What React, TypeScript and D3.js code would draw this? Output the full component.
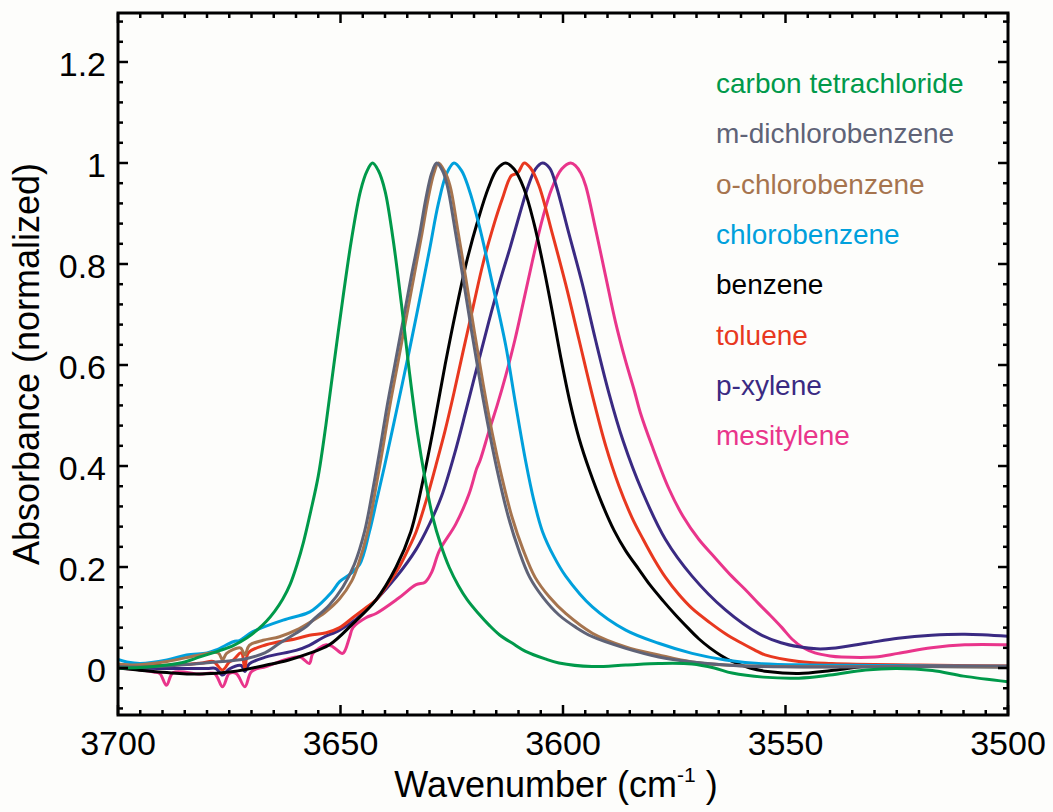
import React from "react";
import * as d3 from "d3";

type Pt = [number, number];

const WIDTH = 1053;
const HEIGHT = 812;

const xTicks = [3700, 3650, 3600, 3550, 3500];
const yTicks = [0, 0.2, 0.4, 0.6, 0.8, 1, 1.2];
const yTickLabels = ["0", "0.2", "0.4", "0.6", "0.8", "1", "1.2"];

const seriesNames = [
  "carbon tetrachloride",
  "m-dichlorobenzene",
  "o-chlorobenzene",
  "chlorobenzene",
  "benzene",
  "toluene",
  "p-xylene",
  "mesitylene",
];
const seriesColors = [
  "#00994a",
  "#5f6377",
  "#a6744e",
  "#00a0dc",
  "#000000",
  "#e8381f",
  "#3a2a82",
  "#e9358b",
];

const ccl4: Pt[] = [
  [3700, 0.0], [3695, 0.001], [3689, 0.006], [3685, 0.012], [3681.6, 0.022], [3677, 0.035],
  [3674, 0.045], [3671, 0.06], [3668.5, 0.077], [3666.7, 0.092], [3664.8, 0.112], [3663, 0.136],
  [3661.3, 0.166], [3659.8, 0.204], [3658.3, 0.25], [3656.7, 0.31], [3655, 0.38], [3653.3, 0.48],
  [3651.5, 0.6], [3649.5, 0.73], [3647.5, 0.85], [3645.5, 0.945], [3644, 0.985], [3642.8, 1.0],
  [3641.5, 0.985], [3640, 0.945], [3638.2, 0.85], [3636.3, 0.72], [3634.5, 0.585], [3632.7, 0.465],
  [3631, 0.375], [3629.3, 0.3], [3627.5, 0.245], [3625.6, 0.2], [3623.5, 0.163], [3621.5, 0.135],
  [3619, 0.108], [3616.6, 0.085], [3614.3, 0.066], [3611, 0.047], [3608.4, 0.033], [3604, 0.018],
  [3600.9, 0.01], [3593.5, 0.003], [3585.9, 0.006], [3578.5, 0.009], [3571, 0.008], [3566, 0.0],
  [3562, -0.01], [3555, -0.018], [3547, -0.02], [3540, -0.014], [3532, -0.004], [3525, -0.001],
  [3517, -0.005], [3510, -0.016], [3500, -0.027],
];

const mDichloro: Pt[] = [
  [3700, 0.003], [3695, 0.002], [3689, 0.004], [3683, 0.008], [3678, 0.012], [3674, 0.015],
  [3671, 0.019], [3667, 0.03], [3663.7, 0.049], [3660, 0.069], [3657.7, 0.082], [3656.2, 0.095],
  [3652.5, 0.125], [3649.5, 0.16], [3646.9, 0.205], [3644.6, 0.27], [3642.6, 0.36], [3641, 0.44],
  [3639.5, 0.52], [3637.8, 0.6], [3636, 0.685], [3634, 0.78], [3632.2, 0.86], [3630.8, 0.93],
  [3629.5, 0.98], [3628.4, 1.0], [3627.1, 0.985], [3626, 0.955], [3624.3, 0.87], [3622.5, 0.775],
  [3620.5, 0.665], [3618.5, 0.56], [3616.5, 0.465], [3614.5, 0.38], [3612.3, 0.3], [3610, 0.235],
  [3607.5, 0.18], [3604.5, 0.14], [3600.9, 0.105], [3597, 0.08], [3593.4, 0.062], [3585.9, 0.039],
  [3578.5, 0.022], [3571, 0.012], [3563.5, 0.006], [3556, 0.003], [3540, 0.002], [3520, 0.003],
  [3500, 0.004],
];

const oChloro: Pt[] = [
  [3700, 0.008], [3696.6, 0.006], [3689, 0.013], [3681.6, 0.026], [3677.5, 0.03], [3676.5, 0.016],
  [3675.6, 0.029], [3672.5, 0.04], [3671.5, 0.026], [3670.5, 0.045], [3667.4, 0.055],
  [3663.7, 0.062], [3660, 0.075], [3656.6, 0.092], [3653.5, 0.11], [3650.2, 0.137], [3647.5, 0.172],
  [3646, 0.205], [3643.9, 0.27], [3642, 0.36], [3640.4, 0.44], [3638.9, 0.52], [3637.2, 0.6],
  [3635.4, 0.685], [3633.4, 0.78], [3631.7, 0.86], [3630.3, 0.93], [3629, 0.98], [3628, 1.0],
  [3626.7, 0.985], [3625.4, 0.955], [3623.7, 0.87], [3621.9, 0.775], [3619.9, 0.665],
  [3617.9, 0.56], [3615.9, 0.465], [3613.8, 0.38], [3611.5, 0.3], [3609, 0.235], [3606.3, 0.18],
  [3603, 0.14], [3599.4, 0.108], [3593.4, 0.069], [3585.9, 0.042], [3578.5, 0.026], [3571, 0.012],
  [3563.5, 0.006], [3550, 0.003], [3520, 0.003], [3500, 0.003],
];

const chloro: Pt[] = [
  [3700, 0.017], [3698, 0.012], [3695, 0.009], [3689, 0.016], [3684.6, 0.026], [3680, 0.03],
  [3677.9, 0.036], [3674.1, 0.052], [3672.6, 0.055], [3669.7, 0.072], [3662.9, 0.095],
  [3657.7, 0.108], [3656.2, 0.115], [3652, 0.15], [3650.2, 0.171], [3648, 0.185], [3645.7, 0.205],
  [3643.5, 0.27], [3641.8, 0.335], [3640.1, 0.4], [3637.4, 0.51], [3634.5, 0.63], [3632.2, 0.73],
  [3630.0, 0.828], [3628, 0.92], [3626.2, 0.978], [3624.5, 1.0], [3622.8, 0.985], [3621.2, 0.95],
  [3618.8, 0.875], [3615.9, 0.762], [3612.9, 0.64], [3610.7, 0.525], [3608.4, 0.41],
  [3606.5, 0.33], [3604.6, 0.27], [3602, 0.22], [3599.4, 0.182], [3593.4, 0.121], [3585.9, 0.075],
  [3578.5, 0.049], [3571, 0.029], [3563.5, 0.016], [3556, 0.009], [3545, 0.006], [3530, 0.005],
  [3500, 0.003],
];

const benzene: Pt[] = [
  [3700, 0.0], [3696.6, -0.003], [3689, -0.009], [3681.6, -0.012], [3674, -0.007], [3666.6, 0.006],
  [3662, 0.015], [3657.7, 0.027], [3652.5, 0.046], [3647.2, 0.088], [3642, 0.135], [3637.5, 0.2],
  [3634.2, 0.27], [3631.5, 0.37], [3629, 0.48], [3626.5, 0.6], [3624, 0.71], [3621.5, 0.81],
  [3619, 0.89], [3616.8, 0.95], [3614.8, 0.988], [3612.9, 1.0], [3611, 0.988], [3608.8, 0.95],
  [3606.5, 0.88], [3604.5, 0.8], [3602.5, 0.71], [3600.5, 0.615], [3598.4, 0.525], [3596.4, 0.455],
  [3594, 0.39], [3591.2, 0.325], [3588.5, 0.272], [3585.9, 0.232], [3583, 0.196], [3580.5, 0.165],
  [3577.5, 0.133], [3574.7, 0.105], [3572, 0.08], [3569.5, 0.058], [3567, 0.04], [3564.5, 0.025],
  [3562, 0.013], [3558, 0.0], [3554, -0.007], [3547, -0.011], [3539.7, -0.005], [3532, 0.003],
  [3520, 0.003], [3500, 0.002],
];

const toluene: Pt[] = [
  [3700, 0.007], [3694, 0.005], [3687.6, 0.006], [3681, 0.01], [3678.6, 0.013], [3676.5, -0.004],
  [3675, 0.012], [3674.1, 0.016], [3672.3, 0.03], [3671.5, -0.001], [3670.7, 0.03], [3666.7, 0.046],
  [3660, 0.058], [3657, 0.065], [3653.2, 0.07], [3650.2, 0.08], [3647.2, 0.1], [3644.5, 0.118],
  [3642, 0.135], [3639, 0.17], [3636.8, 0.2], [3634.8, 0.235], [3633, 0.27], [3630.8, 0.33],
  [3628.6, 0.4], [3626.5, 0.47], [3624.5, 0.545], [3622.5, 0.625], [3620.2, 0.715], [3618, 0.8],
  [3615.8, 0.87], [3613.6, 0.93], [3611.6, 0.975], [3610.2, 0.98], [3608.7, 1.0], [3607.3, 0.99],
  [3605.4, 0.955], [3602.4, 0.86], [3599.4, 0.76], [3596.4, 0.65], [3593.4, 0.54], [3590.4, 0.44],
  [3587.4, 0.36], [3584.5, 0.298], [3582, 0.255], [3579.5, 0.215], [3577, 0.18], [3574, 0.146],
  [3571, 0.118], [3567, 0.09], [3563.5, 0.068], [3560, 0.05], [3557, 0.036], [3554.6, 0.026],
  [3547, 0.013], [3539.6, 0.009], [3520, 0.006], [3500, 0.004],
];

const pXylene: Pt[] = [
  [3700, 0.001], [3689, -0.001], [3680, -0.001], [3678, -0.001], [3676.5, -0.014], [3675, -0.002],
  [3672.3, 0.005], [3671.5, -0.007], [3670.5, 0.008], [3666.7, 0.022], [3660, 0.035], [3657, 0.045],
  [3654, 0.06], [3650.2, 0.075], [3646.5, 0.097], [3642, 0.135], [3637.5, 0.18], [3633, 0.235],
  [3630, 0.285], [3627.3, 0.34], [3624.5, 0.42], [3621.8, 0.51], [3619.2, 0.6], [3616.7, 0.685],
  [3614.2, 0.765], [3611.8, 0.835], [3609.7, 0.9], [3607.8, 0.955], [3606.2, 0.988], [3604.6, 1.0],
  [3603, 0.99], [3601.7, 0.96], [3598.7, 0.861], [3595.7, 0.762], [3592.7, 0.65], [3589.7, 0.545],
  [3586.5, 0.45], [3582.2, 0.35], [3577, 0.255], [3571, 0.182], [3563.5, 0.115], [3556, 0.068],
  [3551, 0.05], [3547, 0.042], [3543, 0.038], [3539.6, 0.039], [3532, 0.049], [3524.7, 0.059],
  [3517.2, 0.065], [3509.7, 0.067], [3500, 0.063],
];

const mesitylene: Pt[] = [
  [3700, 0.001], [3697, -0.002], [3695, -0.004], [3692, -0.008], [3690.6, -0.011], [3689.1, -0.034],
  [3687.6, -0.009], [3681.6, -0.012], [3678.3, -0.011], [3676.5, -0.037], [3675, -0.011],
  [3673.4, -0.011], [3671.5, -0.037], [3670, -0.007], [3666.7, 0.003], [3659.2, 0.022],
  [3657, 0.009], [3656.2, 0.029], [3653.2, 0.046], [3651.7, 0.042], [3649.5, 0.029], [3648, 0.06],
  [3647.2, 0.08], [3644.2, 0.1], [3642, 0.108], [3637, 0.138], [3633, 0.165], [3631, 0.17],
  [3629.5, 0.19], [3627.8, 0.232], [3624.1, 0.285], [3621.1, 0.345], [3619.4, 0.395],
  [3618.6, 0.412], [3616.6, 0.47], [3614.8, 0.52], [3612.9, 0.578], [3610.8, 0.65], [3608.9, 0.725],
  [3606.9, 0.805], [3604.6, 0.89], [3602.5, 0.95], [3600.3, 0.988], [3598.3, 1.0], [3597.2, 0.995],
  [3596, 0.98], [3594.9, 0.955], [3592.7, 0.87], [3590.4, 0.775], [3588.2, 0.685], [3586, 0.61],
  [3584, 0.55], [3582.6, 0.505], [3580, 0.44], [3576.2, 0.355], [3573, 0.3], [3569.5, 0.255],
  [3566, 0.22], [3562.1, 0.182], [3559, 0.155], [3556.1, 0.128], [3553.5, 0.105], [3550.8, 0.08],
  [3548.5, 0.057], [3546, 0.04], [3543.4, 0.03], [3540, 0.024], [3537.4, 0.022], [3529.9, 0.022],
  [3524.7, 0.029], [3517.2, 0.04], [3509.7, 0.046], [3500, 0.046],
];

const seriesData: Pt[][] = [ccl4, mDichloro, oChloro, chloro, benzene, toluene, pXylene, mesitylene];
const drawOrder = [7, 6, 5, 4, 3, 2, 1, 0];

const LEFT = 118;
const RIGHT = 1008;
const TOP = 13;
const BOTTOM = 715;
const FONT = "'Liberation Sans', Arial, Helvetica, sans-serif";

export default function App() {
  const x = d3.scaleLinear().domain([3700, 3500]).range([LEFT, RIGHT]);
  const y = d3.scaleLinear().domain([-0.093, 1.297]).range([BOTTOM, TOP]);
  const line = d3
    .line<Pt>()
    .x((d) => x(d[0]))
    .y((d) => y(d[1]))
    .curve(d3.curveCatmullRom.alpha(0.5));

  const xMinor = d3.range(3700, 3499, -5);
  const yMinor = d3.range(-0.08, 1.29, 0.04).map((v) => Math.round(v * 100) / 100);
  const isMajorY = (v: number) => Math.abs(v / 0.2 - Math.round(v / 0.2)) < 1e-6;

  return (
    <svg
      width={WIDTH}
      height={HEIGHT}
      style={{ position: "absolute", left: 0, top: 0, background: "#fdfdfb" }}
    >
      <defs>
        <clipPath id="plot">
          <rect x={LEFT} y={TOP} width={RIGHT - LEFT} height={BOTTOM - TOP} />
        </clipPath>
      </defs>
      <rect x={0} y={0} width={WIDTH} height={HEIGHT} fill="#fdfdfb" />

      <g clipPath="url(#plot)">
        {drawOrder.map((i) => (
          <path
            key={seriesNames[i]}
            d={line(seriesData[i]) || ""}
            fill="none"
            stroke={seriesColors[i]}
            strokeWidth={3}
            strokeLinejoin="round"
            strokeLinecap="round"
          />
        ))}
      </g>

      {/* ticks */}
      <g stroke="#000" strokeWidth={2.5}>
        {xMinor.map((v) => {
          const major = v % 50 === 0;
          const len = major ? 10 : 5;
          const px = x(v);
          return (
            <g key={"xt" + v}>
              <line x1={px} x2={px} y1={BOTTOM} y2={BOTTOM - len} />
              <line x1={px} x2={px} y1={TOP} y2={TOP + len} />
            </g>
          );
        })}
        {yMinor.map((v) => {
          const len = isMajorY(v) ? 10 : 5;
          const py = y(v);
          return (
            <g key={"yt" + v}>
              <line x1={LEFT} x2={LEFT + len} y1={py} y2={py} />
              <line x1={RIGHT} x2={RIGHT - len} y1={py} y2={py} />
            </g>
          );
        })}
      </g>

      <rect
        x={LEFT}
        y={TOP}
        width={RIGHT - LEFT}
        height={BOTTOM - TOP}
        fill="none"
        stroke="#000"
        strokeWidth={3}
      />

      {/* tick labels */}
      <g fontFamily={FONT} fontSize={34} fill="#000">
        {xTicks.map((v) => (
          <text key={"xl" + v} x={x(v)} y={755} textAnchor="middle">
            {v}
          </text>
        ))}
        {yTicks.map((v, i) => (
          <text key={"yl" + v} x={106} y={y(v) + 14} textAnchor="end">
            {yTickLabels[i]}
          </text>
        ))}
      </g>

      {/* axis titles */}
      <text x={556} y={797} textAnchor="middle" fontFamily={FONT} fontSize={36} fill="#000">
        <tspan>Wavenumber (cm</tspan>
        <tspan fontSize={21} dy={-15}>-1</tspan>
        <tspan dy={15}> )</tspan>
      </text>
      <text
        transform={`translate(39, 364) rotate(-90)`}
        textAnchor="middle"
        fontFamily={FONT}
        fontSize={36}
        fill="#000"
      >
        Absorbance (normalized)
      </text>

      {/* legend */}
      <g fontFamily={FONT} fontSize={28}>
        {seriesNames.map((n, i) => (
          <text key={n} x={716} y={93 + i * 50.3} fill={seriesColors[i]}>
            {n}
          </text>
        ))}
      </g>
    </svg>
  );
}
